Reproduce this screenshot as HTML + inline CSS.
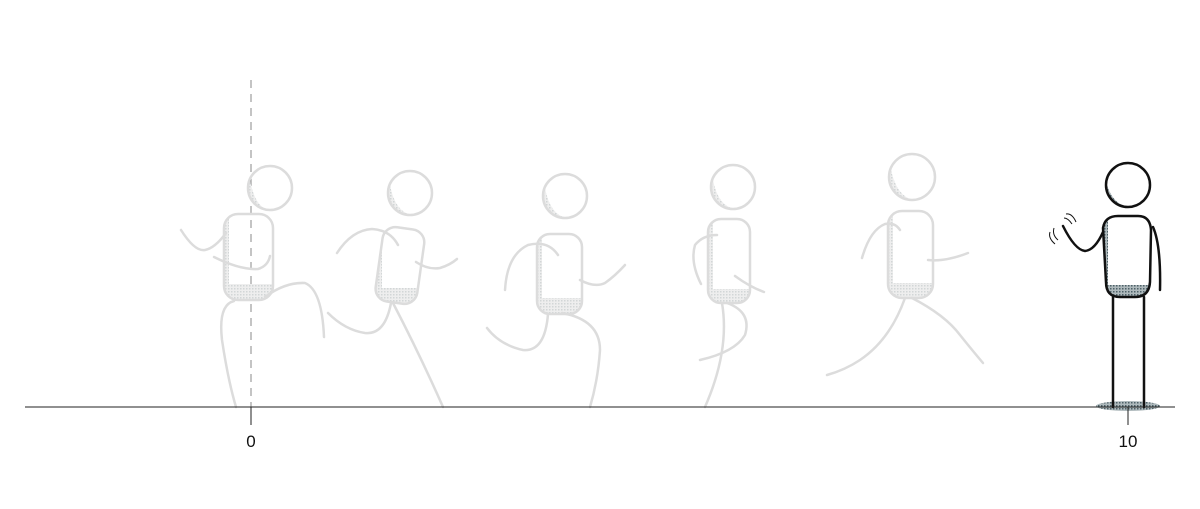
<!DOCTYPE html>
<html><head><meta charset="utf-8"><style>
html,body{margin:0;padding:0;background:#fff;}
svg{display:block;font-family:"Liberation Sans",sans-serif;}
.g{fill:none;stroke:#dcdcdc;stroke-width:2.5;stroke-linecap:round;stroke-linejoin:round}
.k{fill:none;stroke:#111;stroke-width:2.5;stroke-linecap:round;stroke-linejoin:round}
</style></head><body>
<svg id="c" width="1200" height="509" viewBox="0 0 1200 509">
<defs>
<pattern id="dots" width="3" height="3" patternUnits="userSpaceOnUse"><rect width="3" height="3" fill="#eeeeee"/><rect width="1.5" height="1.5" fill="#d2d6d7"/></pattern>
<pattern id="dotsk" width="3" height="3" patternUnits="userSpaceOnUse"><rect width="3" height="3" fill="#aeb9bc"/><rect width="1.5" height="1.5" fill="#4e6168"/></pattern>
<clipPath id="c1"><rect x="224" y="214" width="49" height="86" rx="14"/></clipPath>
<clipPath id="c2"><rect x="379" y="228" width="42" height="75" rx="13" transform="rotate(8 400 265)"/></clipPath>
<clipPath id="c3"><rect x="537" y="234" width="45" height="80" rx="13"/></clipPath>
<clipPath id="c4"><rect x="708" y="219" width="42" height="84" rx="13"/></clipPath>
<clipPath id="c5"><rect x="888" y="211" width="45" height="87" rx="14"/></clipPath>
<clipPath id="c6"><path d="M1103 228 Q1105 216 1118 216 L1138 216 Q1150 216 1151 230 L1150 282 Q1149 297 1135 297 L1120 297 Q1106 297 1106 282 Z"/></clipPath>
</defs>
<line x1="251" y1="80" x2="251" y2="407" stroke="#888" stroke-width="1" stroke-dasharray="8,6"/>

<g>
<g clip-path="url(#c1)" fill="url(#dots)"><rect x="220" y="284" width="60" height="20"/><rect x="224" y="214" width="5" height="90"/></g>
<path d="M250 180 A22 22 0 0 0 270 210 Q255 208 250 180Z" fill="url(#dots)"/>
<circle class="g" cx="270" cy="188" r="22"/>
<rect class="g" x="224" y="214" width="49" height="86" rx="14"/>
<path class="g" d="M181 230 Q195 252 205 250 Q215 248 226 233"/>
<path class="g" d="M214 257 Q240 270 258 269 Q268 266 270 256"/>
<path class="g" d="M234 301 Q218 305 222 340 Q228 380 236 407"/>
<path class="g" d="M265 297 Q285 282 305 283 Q322 290 324 337"/>
</g>
<g>
<g clip-path="url(#c2)" fill="url(#dots)"><rect x="360" y="288" width="70" height="20"/><rect x="370" y="228" width="12" height="80"/></g>
<path d="M390 185 A22 22 0 0 0 412 215 Q395 212 390 185Z" fill="url(#dots)"/>
<circle class="g" cx="410" cy="193" r="22"/>
<rect class="g" x="379" y="228" width="42" height="75" rx="13" transform="rotate(8 400 265)"/>
<path class="g" d="M337 253 Q352 230 372 229 Q390 230 398 245"/>
<path class="g" d="M416 262 Q428 270 440 268 Q450 265 457 259"/>
<path class="g" d="M391 303 Q385 335 365 333 Q345 330 328 313"/>
<path class="g" d="M393 303 Q420 355 443 407"/>
</g>
<g>
<g clip-path="url(#c3)" fill="url(#dots)"><rect x="530" y="298" width="60" height="20"/><rect x="537" y="234" width="5" height="84"/></g>
<path d="M545 188 A22 22 0 0 0 567 218 Q550 215 545 188Z" fill="url(#dots)"/>
<circle class="g" cx="565" cy="196" r="22"/>
<rect class="g" x="537" y="234" width="45" height="80" rx="13"/>
<path class="g" d="M505 290 Q507 255 528 245 Q548 240 558 255"/>
<path class="g" d="M580 280 Q595 288 605 283 Q615 276 625 265"/>
<path class="g" d="M548 314 Q545 352 523 350 Q500 345 487 328"/>
<path class="g" d="M562 313 Q600 320 600 350 Q598 380 590 407"/>
</g>
<g>
<g clip-path="url(#c4)" fill="url(#dots)"><rect x="700" y="289" width="60" height="20"/><rect x="708" y="219" width="5" height="90"/></g>
<path d="M713 180 A22 22 0 0 0 735 209 Q718 206 713 180Z" fill="url(#dots)"/>
<circle class="g" cx="733" cy="187" r="22"/>
<rect class="g" x="708" y="219" width="42" height="84" rx="13"/>
<path class="g" d="M701 284 Q690 262 695 245 Q703 235 717 235"/>
<path class="g" d="M735 276 Q750 287 764 292"/>
<path class="g" d="M727 303 Q752 312 745 335 Q735 352 700 360"/>
<path class="g" d="M722 303 Q730 350 705 407"/>
</g>
<g>
<g clip-path="url(#c5)" fill="url(#dots)"><rect x="880" y="283" width="60" height="20"/><rect x="888" y="211" width="5" height="92"/></g>
<path d="M891 170 A23 23 0 0 0 914 200 Q897 197 891 170Z" fill="url(#dots)"/>
<circle class="g" cx="912" cy="177" r="23"/>
<rect class="g" x="888" y="211" width="45" height="87" rx="14"/>
<path class="g" d="M862 258 Q870 230 885 224 Q895 222 900 230"/>
<path class="g" d="M928 260 Q945 262 968 253"/>
<path class="g" d="M905 298 Q890 340 860 360 Q845 370 827 375"/>
<path class="g" d="M912 298 Q945 315 960 335 Q972 350 983 363"/>
</g>

<g>
<ellipse cx="1128" cy="406" rx="32" ry="5" fill="url(#dotsk)"/>
<g clip-path="url(#c6)" fill="url(#dotsk)"><rect x="1100" y="285" width="60" height="15"/><rect x="1100" y="216" width="8" height="84"/></g>
<path d="M1106 182 A22 22 0 0 0 1128 207 Q1112 204 1106 182Z" fill="url(#dotsk)"/>
<circle class="k" cx="1128" cy="185" r="22"/>
<path class="k" d="M1103 228 Q1105 216 1118 216 L1138 216 Q1150 216 1151 230 L1150 282 Q1149 297 1135 297 L1120 297 Q1106 297 1106 282 Z"/>
<line class="k" x1="1113" y1="297" x2="1113" y2="407"/>
<line class="k" x1="1144" y1="297" x2="1144" y2="407"/>
<path class="k" d="M1153 227 Q1161 245 1160 290"/>
<path class="k" d="M1063 226 Q1075 250 1085 251 Q1095 250 1103 232"/>
<path fill="none" stroke="#111" stroke-width="1" d="M1066 214 Q1072 213 1076 222 M1064 218 Q1068 218 1072 224 M1054 228 Q1052 235 1058 240 M1050 232 Q1048 238 1055 244"/>
</g>

<line x1="25" y1="407" x2="1175" y2="407" stroke="#222" stroke-width="1"/>
<g id="ticks"></g>
</svg>
<script>
const tickValues = [0, 10];
const tickLabels = ["0", "10"];
function xScale(v){ return 251 + (v - 0) * (1128 - 251) / 10; }
const tg = document.getElementById('ticks');
const NS = 'http://www.w3.org/2000/svg';
tickValues.forEach((v, i) => {
  const x = xScale(v);
  const l = document.createElementNS(NS, 'line');
  l.setAttribute('x1', x); l.setAttribute('x2', x);
  l.setAttribute('y1', 407); l.setAttribute('y2', 425);
  l.setAttribute('stroke', '#222'); l.setAttribute('stroke-width', '1');
  
  
  tg.appendChild(l);
  const t = document.createElementNS(NS, 'text');
  t.setAttribute('x', x); t.setAttribute('y', 447);
  t.setAttribute('text-anchor', 'middle');
  t.setAttribute('font-size', '17');
  t.setAttribute('fill', '#111');
  t.textContent = tickLabels[i];
  
  
  tg.appendChild(t);
});
</script>
</body></html>
